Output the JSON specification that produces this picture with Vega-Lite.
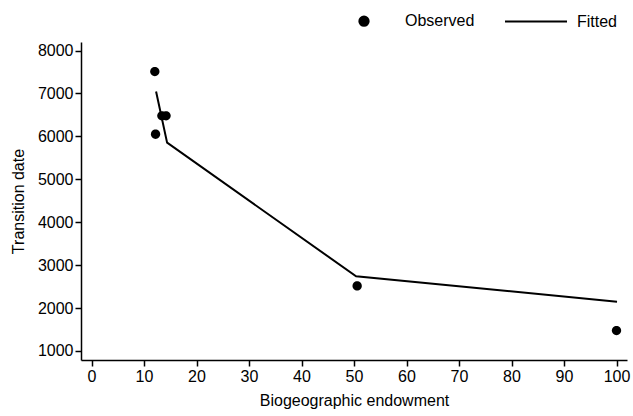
{
  "$schema": "https://vega.github.io/schema/vega-lite/v6.json",
  "width": 546,
  "height": 318,
  "autosize": {"type": "none"},
  "padding": {"left": 81, "top": 42, "right": 6, "bottom": 56},
  "background": "white",
  "config": {
    "font": "Liberation Sans",
    "view": {"stroke": null},
    "axis": {
      "domainColor": "black",
      "domainWidth": 1.5,
      "tickColor": "black",
      "tickWidth": 1.5,
      "tickSize": 6,
      "labelFont": "Liberation Sans",
      "labelFontSize": 16,
      "labelColor": "black",
      "titleFont": "Liberation Sans",
      "titleFontSize": 16,
      "titleFontWeight": "normal",
      "titleColor": "black",
      "grid": false
    },
    "legend": {
      "title": null,
      "orient": "none",
      "direction": "horizontal",
      "legendX": 251,
      "legendY": -53,
      "padding": 0,
      "symbolSize": 3844,
      "symbolStrokeColor": "black",
      "symbolFillColor": "black",
      "symbolStrokeWidth": 2,
      "symbolOpacity": 1,
      "labelOffset": 9,
      "labelFontSize": 16,
      "labelFont": "Liberation Sans",
      "labelColor": "black",
      "columnPadding": 26
    }
  },
  "datasets": {
    "observed": [
      {"x": 12.06, "y": 7510, "series": "Observed"},
      {"x": 12.2, "y": 6050, "series": "Observed"},
      {"x": 13.4, "y": 6480, "series": "Observed"},
      {"x": 14.2, "y": 6480, "series": "Observed"},
      {"x": 50.6, "y": 2515, "series": "Observed"},
      {"x": 100, "y": 1475, "series": "Observed"}
    ],
    "fitted": [
      {"x": 12.3, "y": 7045, "series": "Fitted"},
      {"x": 14.4, "y": 5855, "series": "Fitted"},
      {"x": 50.4, "y": 2740, "series": "Fitted"},
      {"x": 100.1, "y": 2150, "series": "Fitted"}
    ]
  },
  "layer": [
    {
      "data": {"name": "fitted"},
      "mark": {"type": "line", "strokeWidth": 2},
      "encoding": {
        "x": {"field": "x", "type": "quantitative"},
        "y": {"field": "y", "type": "quantitative"},
        "color": {"field": "series", "type": "nominal", "scale": {"domain": ["Observed", "Fitted"], "range": ["black", "black"]}, "legend": {"title": null}}
      }
    },
    {
      "data": {"name": "observed"},
      "mark": {"type": "point", "filled": true, "strokeWidth": 1.5, "size": 3844, "opacity": 1},
      "encoding": {
        "x": {
          "field": "x", "type": "quantitative",
          "scale": {"domain": [-2, 102], "nice": false, "zero": false},
          "axis": {"values": [0, 10, 20, 30, 40, 50, 60, 70, 80, 90, 100], "title": "Biogeographic endowment", "labelPadding": 2, "titlePadding": 8}
        },
        "y": {
          "field": "y", "type": "quantitative",
          "scale": {"domain": [790, 8200], "nice": false, "zero": false},
          "axis": {"values": [1000, 2000, 3000, 4000, 5000, 6000, 7000, 8000], "format": "d", "title": "Transition date", "labelPadding": 2, "titlePadding": 11}
        },
        "color": {"field": "series", "type": "nominal", "legend": {"title": null}},
        "shape": {
          "field": "series", "type": "nominal",
          "scale": {"domain": ["Observed", "Fitted"], "range": ["M-0.15,0A0.15,0.15,0,1,1,0.15,0A0.15,0.15,0,1,1,-0.15,0Z", "stroke"]},
          "legend": {"title": null}
        }
      }
    }
  ]
}
